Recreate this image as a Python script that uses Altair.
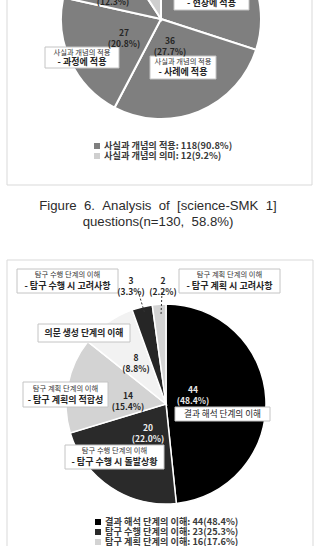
import altair as alt
import pandas as pd

W, H = 316, 546
KR = "Noto Sans CJK KR"
LAT = "Liberation Sans"
SP = " \u00a0"  # wide word gap used in the caption

# ---------------- data: Figure 6 (upper pie, cropped at the top) ----------------
TOP_CATS = ["사실과 개념의 적용 - 현장에 적용", "사실과 개념의 적용 - 사례에 적용",
            "사실과 개념의 적용 - 과정에 적용", "사실과 개념의 적용 - 기타", "사실과 개념의 의미"]
TOP_VALUES = [39, 36, 27, 16, 12]
TOP_PCTS = ["30.0%", "27.7%", "20.8%", "12.3%", "9.2%"]
TOP_LEGEND = ["사실과 개념의 적용: 118(90.8%)", "사실과 개념의 의미: 12(9.2%)"]

CAPTION = [SP.join(["Figure", "6.", "Analysis", "of", "[science-SMK", "1]"]),
           SP.join(["questions(n=130,", "58.8%)"])]

# ---------------- data: next figure (lower pie) ----------------
LOW_CATS = ["결과 해석 단계의 이해", "탐구 수행 단계의 이해 - 탐구 수행 시 돌발상황",
            "탐구 계획 단계의 이해 - 탐구 계획의 적합성", "의문 생성 단계의 이해",
            "탐구 수행 단계의 이해 - 탐구 수행 시 고려사항", "탐구 계획 단계의 이해 - 탐구 계획 시 고려사항"]
LOW_VALUES = [44, 20, 14, 8, 3, 2]
LOW_PCTS = ["48.4%", "22.0%", "15.4%", "8.8%", "3.3%", "2.2%"]
LOW_LEGEND = ["결과 해석 단계의 이해: 44(48.4%)", "탐구 수행 단계의 이해: 23(25.3%)",
              "탐구 계획 단계의 이해: 16(17.6%)", "의문 생성 단계의 이해: 8(8.8%)"]

# ---------------- styles / layout ----------------
TOP_COLORS = ["#7f7f7f", "#7f7f7f", "#7f7f7f", "#7f7f7f", "#cfcfcf"]
TOP_LEG_COLORS = ["#7f7f7f", "#cfcfcf"]
LOW_COLORS = ["#000000", "#2a2a2a", "#d3d3d3", "#f2f2f2", "#262626", "#d3d3d3"]
LOW_LEG_COLORS = ["#000000", "#2a2a2a", "#d3d3d3", "#f2f2f2"]
TOP_CX, TOP_CY, LOW_CX, LOW_CY, RAD = 161, 19, 166, 404, 100

TOP_LBL_X = [210, 170, 124, 113, 150]
TOP_LBL_Y = [-26, 41, 33, -9, -45]
TOP_LBL_C = ["#262626"] * 5
LOW_LBL_X = [193, 148, 128, 136, 131, 163]
LOW_LBL_Y = [390, 428, 396, 358, 281, 281]
LOW_LBL_C = ["#e8e8e8", "#f0f0f0", "#262626", "#262626", "#262626", "#262626"]

FRAMES = [(7, -5, 312, 185), (7, 260, 313, 570)]
# two-line label boxes: x1, y1, x2, y2, small line, bold line
BOXES2 = [
    (174, -14, 249, 10, "사실과 개념의 적용", "- 현장에 적용"),
    (45, 47, 119, 68, "사실과 개념의 적용", "- 과정에 적용"),
    (150, 56, 216, 79, "사실과 개념의 적용", "- 사례에 적용"),
    (17, 269, 118, 293, "탐구 수행 단계의 이해", "- 탐구 수행 시 고려사항"),
    (179, 269, 280, 293, "탐구 계획 단계의 이해", "- 탐구 계획 시 고려사항"),
    (23, 382, 108, 407, "탐구 계획 단계의 이해", "- 탐구 계획의 적합성"),
    (65, 445, 164, 469, "탐구 수행 단계의 이해", "- 탐구 수행 시 돌발상황"),
]
BOXES1 = [
    (38, 324, 130, 342, "의문 생성 단계의 이해", "bold"),
    (175, 407, 270, 421, "결과 해석 단계의 이해", "normal"),
]
LEADERS = [(138, 291, 145, 314), (162, 292, 161, 315)]
TOP_LEG_X, TOP_LEG_Y = 97, [146, 156]
LOW_LEG_X, LOW_LEG_Y = 98, [522, 532, 542, 552]
CAP_Y = [206, 222]

NUM = lambda v, p: f"{v}\n({p})"

# ---------------- tables ----------------
top_df = pd.DataFrame({"cat": TOP_CATS, "v": TOP_VALUES, "i": range(len(TOP_VALUES)),
                       "col": TOP_COLORS})
low_df = pd.DataFrame({"cat": LOW_CATS, "v": LOW_VALUES, "i": range(len(LOW_VALUES)),
                       "col": LOW_COLORS})
num_df = pd.DataFrame({
    "t": [NUM(v, p) for v, p in zip(TOP_VALUES, TOP_PCTS)] + [NUM(v, p) for v, p in zip(LOW_VALUES, LOW_PCTS)],
    "x": TOP_LBL_X + LOW_LBL_X, "y": TOP_LBL_Y + LOW_LBL_Y, "c": TOP_LBL_C + LOW_LBL_C})
frame_df = pd.DataFrame(FRAMES, columns=["x1", "y1", "x2", "y2"])
box2_df = pd.DataFrame(BOXES2, columns=["x1", "y1", "x2", "y2", "a", "b"])
box2_df["xc"] = (box2_df.x1 + box2_df.x2) / 2
box2_df["ya"] = box2_df.y1 + (box2_df.y2 - box2_df.y1) * 0.27
box2_df["yb"] = box2_df.y1 + (box2_df.y2 - box2_df.y1) * 0.7
box1_df = pd.DataFrame(BOXES1, columns=["x1", "y1", "x2", "y2", "a", "w"])
box1_df["xc"] = (box1_df.x1 + box1_df.x2) / 2
box1_df["yc"] = (box1_df.y1 + box1_df.y2) / 2
lead_df = pd.DataFrame(LEADERS, columns=["x1", "y1", "x2", "y2"])
leg_df = pd.DataFrame({
    "t": TOP_LEGEND + LOW_LEGEND,
    "c": TOP_LEG_COLORS + LOW_LEG_COLORS,
    "x": [TOP_LEG_X] * len(TOP_LEGEND) + [LOW_LEG_X] * len(LOW_LEGEND),
    "y": TOP_LEG_Y + LOW_LEG_Y})
cap_df = pd.DataFrame({"t": CAPTION, "y": CAP_Y})

X = lambda f: alt.X(f"{f}:Q", scale=None)
Y = lambda f: alt.Y(f"{f}:Q", scale=None)

frames = alt.Chart(frame_df).mark_rect(fill="white", stroke="#d9d9d9", strokeWidth=1).encode(
    x=X("x1"), x2="x2:Q", y=Y("y1"), y2="y2:Q")

top_arc = alt.Chart(top_df).mark_arc(radius=RAD, stroke="white", strokeWidth=2).encode(
    theta=alt.Theta("v:Q", stack=True), order=alt.Order("i:Q"),
    color=alt.Color("col:N", scale=None), x=alt.value(TOP_CX), y=alt.value(TOP_CY))
low_arc = alt.Chart(low_df).mark_arc(radius=RAD, stroke="white", strokeWidth=1.5).encode(
    theta=alt.Theta("v:Q", stack=True), order=alt.Order("i:Q"),
    color=alt.Color("col:N", scale=None), x=alt.value(LOW_CX), y=alt.value(LOW_CY))

leaders = alt.Chart(lead_df).mark_rule(color="#333333", strokeWidth=1, strokeDash=[2, 2]).encode(
    x=X("x1"), y=Y("y1"), x2="x2:Q", y2="y2:Q")

box2 = alt.Chart(box2_df).mark_rect(fill="white", stroke="#c4c4c4", strokeWidth=1).encode(
    x=X("x1"), x2="x2:Q", y=Y("y1"), y2="y2:Q")
box2a = alt.Chart(box2_df).mark_text(font=KR, fontSize=7.3, color="#333333", baseline="middle").encode(
    x=X("xc"), y=Y("ya"), text="a:N")
box2b = alt.Chart(box2_df).mark_text(font=KR, fontSize=9, fontWeight="bold", color="#262626",
                                     baseline="middle").encode(x=X("xc"), y=Y("yb"), text="b:N")
box1 = alt.Chart(box1_df).mark_rect(fill="white", stroke="#c4c4c4", strokeWidth=1).encode(
    x=X("x1"), x2="x2:Q", y=Y("y1"), y2="y2:Q")
box1t_b = alt.Chart(box1_df).transform_filter("datum.w == 'bold'").mark_text(
    font=KR, fontSize=8.8, fontWeight="bold", color="#262626", baseline="middle").encode(
    x=X("xc"), y=Y("yc"), text="a:N")
box1t_n = alt.Chart(box1_df).transform_filter("datum.w == 'normal'").mark_text(
    font=KR, fontSize=8.6, color="#262626", baseline="middle").encode(
    x=X("xc"), y=Y("yc"), text="a:N")

nums = alt.Chart(num_df).mark_text(font=KR, fontSize=8.5, fontWeight="bold", lineBreak="\n",
                                   lineHeight=11, baseline="middle").encode(
    x=X("x"), y=Y("y"), text="t:N", color=alt.Color("c:N", scale=None))

leg_sq = alt.Chart(leg_df).mark_square(size=36, opacity=1).encode(
    x=X("x"), y=Y("y"), color=alt.Color("c:N", scale=None))
leg_tx = alt.Chart(leg_df).mark_text(font=KR, fontSize=9.2, fontWeight="bold", color="#3a3a3a",
                                     align="left", baseline="middle", dx=7).encode(
    x=X("x"), y=Y("y"), text="t:N")

caption = alt.Chart(cap_df).mark_text(font=LAT, fontSize=13.2, color="#2b2b2b", baseline="middle").encode(
    x=alt.value(W / 2), y=Y("y"), text="t:N")

chart = alt.layer(
    frames, top_arc, low_arc, leaders, box2, box2a, box2b, box1, box1t_b, box1t_n,
    nums, leg_sq, leg_tx, caption
).resolve_scale(theta="independent").properties(
    width=W, height=H, padding=0, autosize=alt.AutoSizeParams(type="none"), background="white"
).configure_view(stroke=None)

chart.save("out.html", embed_options={"renderer": "svg", "actions": False})
